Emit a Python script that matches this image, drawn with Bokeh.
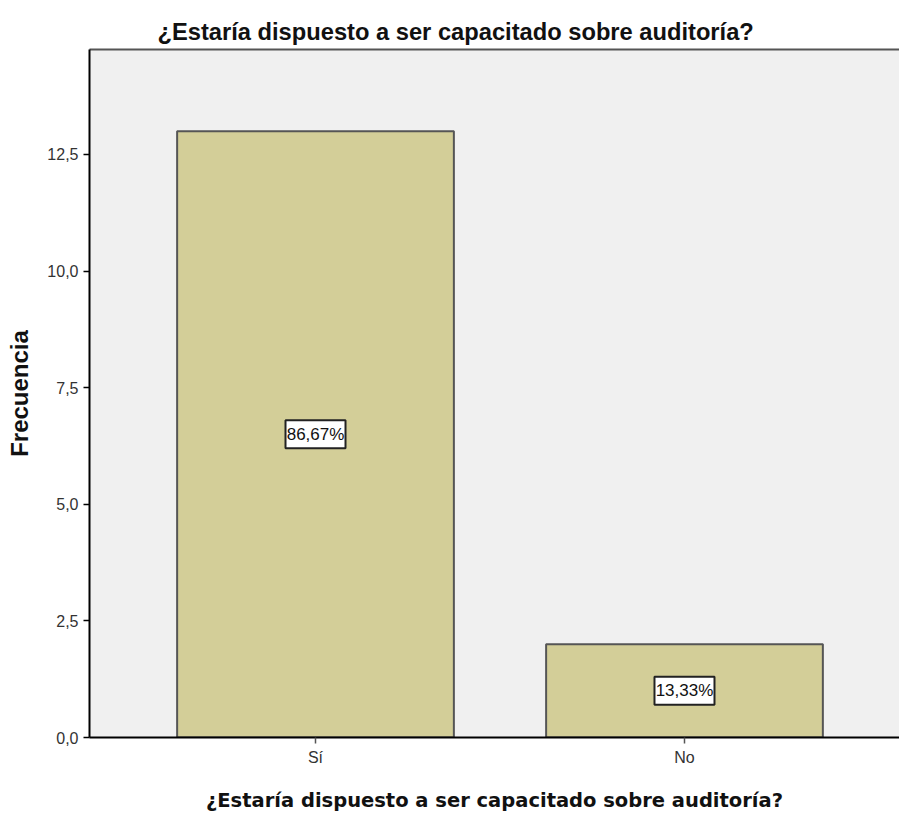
from bokeh.plotting import figure
from bokeh.models import ColumnDataSource, LabelSet, FixedTicker, Range1d, LinearAxis
from bokeh.core.properties import value
from bokeh.embed import file_html
from bokeh.resources import INLINE

categories = ["Sí", "No"]
counts = [13, 2]
pct_labels = ["86,67%", "13,33%"]
y_ticks = [0, 2.5, 5, 7.5, 10, 12.5]
y_tick_labels = ["0,0", "2,5", "5,0", "7,5", "10,0", "12,5"]

xpos = list(range(len(categories)))
source = ColumnDataSource(dict(x=xpos, top=counts, cat=categories,
                               mid=[c / 2 for c in counts], lab=pct_labels))

p = figure(frame_width=810, frame_height=688, output_backend="svg", toolbar_location=None,
           x_range=Range1d(-0.6125, 1.5827), y_range=Range1d(0, 14.75),
           min_border_left=89, min_border_right=0, min_border_top=49, min_border_bottom=0,
           title="¿Estaría dispuesto a ser capacitado sobre auditoría?")

p.background_fill_color = "#f0f0f0"
p.border_fill_color = "white"
p.outline_line_color = None
p.xgrid.visible = False
p.ygrid.visible = False

p.vbar(x="x", top="top", width=0.75, source=source, fill_color="#d3ce98",
       line_color="#555555", line_width=2)

# white label boxes (size in screen pixels) centred on each bar's middle
p.rect(x="x", y="mid", width=60, height=28, width_units="screen", height_units="screen",
       source=source, fill_color="white", line_color="#222222", line_width=2)
p.add_layout(LabelSet(x="x", y="mid", text="lab", source=source, text_align="center",
                      text_baseline="middle", text_font=value("Liberation Sans"),
                      text_font_size="17px", text_color="#111111"))

# top border of the plot area (right side is cropped in the reference)
top_axis = LinearAxis(ticker=FixedTicker(ticks=[]), axis_line_color="#555555", axis_line_width=2,
                      major_label_text_color=None, major_tick_line_color=None,
                      minor_tick_line_color=None)
p.add_layout(top_axis, "above")

p.title.text_font = "Liberation Sans"
p.title.text_font_size = "23.7px"
p.title.text_font_style = "bold"
p.title.text_color = "#111111"
p.title.align = "left"
p.title.offset = 68
p.title.standoff = 9

xa = p.below[0]
ya = p.left[0]
xa.ticker = FixedTicker(ticks=xpos)
xa.major_label_overrides = {i: c for i, c in zip(xpos, categories)}
ya.ticker = FixedTicker(ticks=y_ticks)
ya.major_label_overrides = {t: l for t, l in zip(y_ticks, y_tick_labels)}

for ax in (xa, ya):
    ax.minor_tick_line_color = None
    ax.axis_line_color = "black"
    ax.axis_line_width = 2
    ax.major_tick_line_color = "black"
    ax.major_tick_line_width = 1.5
    ax.major_tick_out = 6
    ax.major_tick_in = 0
    ax.major_label_text_font = "Liberation Sans"
    ax.major_label_text_font_size = "16px"
    ax.major_label_text_color = "#333333"
    ax.axis_label_text_font_style = "bold"
    ax.axis_label_text_color = "#111111"

xa.major_tick_line_color = "#555555"
xa.axis_label = "¿Estaría dispuesto a ser capacitado sobre auditoría?"
xa.axis_label_text_font = "DejaVu Sans"
xa.axis_label_text_font_size = "19.5px"
xa.axis_label_standoff = 20
ya.axis_label = "Frecuencia"
ya.axis_label_text_font = "Liberation Sans"
ya.axis_label_text_font_size = "24px"
ya.axis_label_standoff = 11

open("out.html", "w").write(file_html(p, INLINE))
